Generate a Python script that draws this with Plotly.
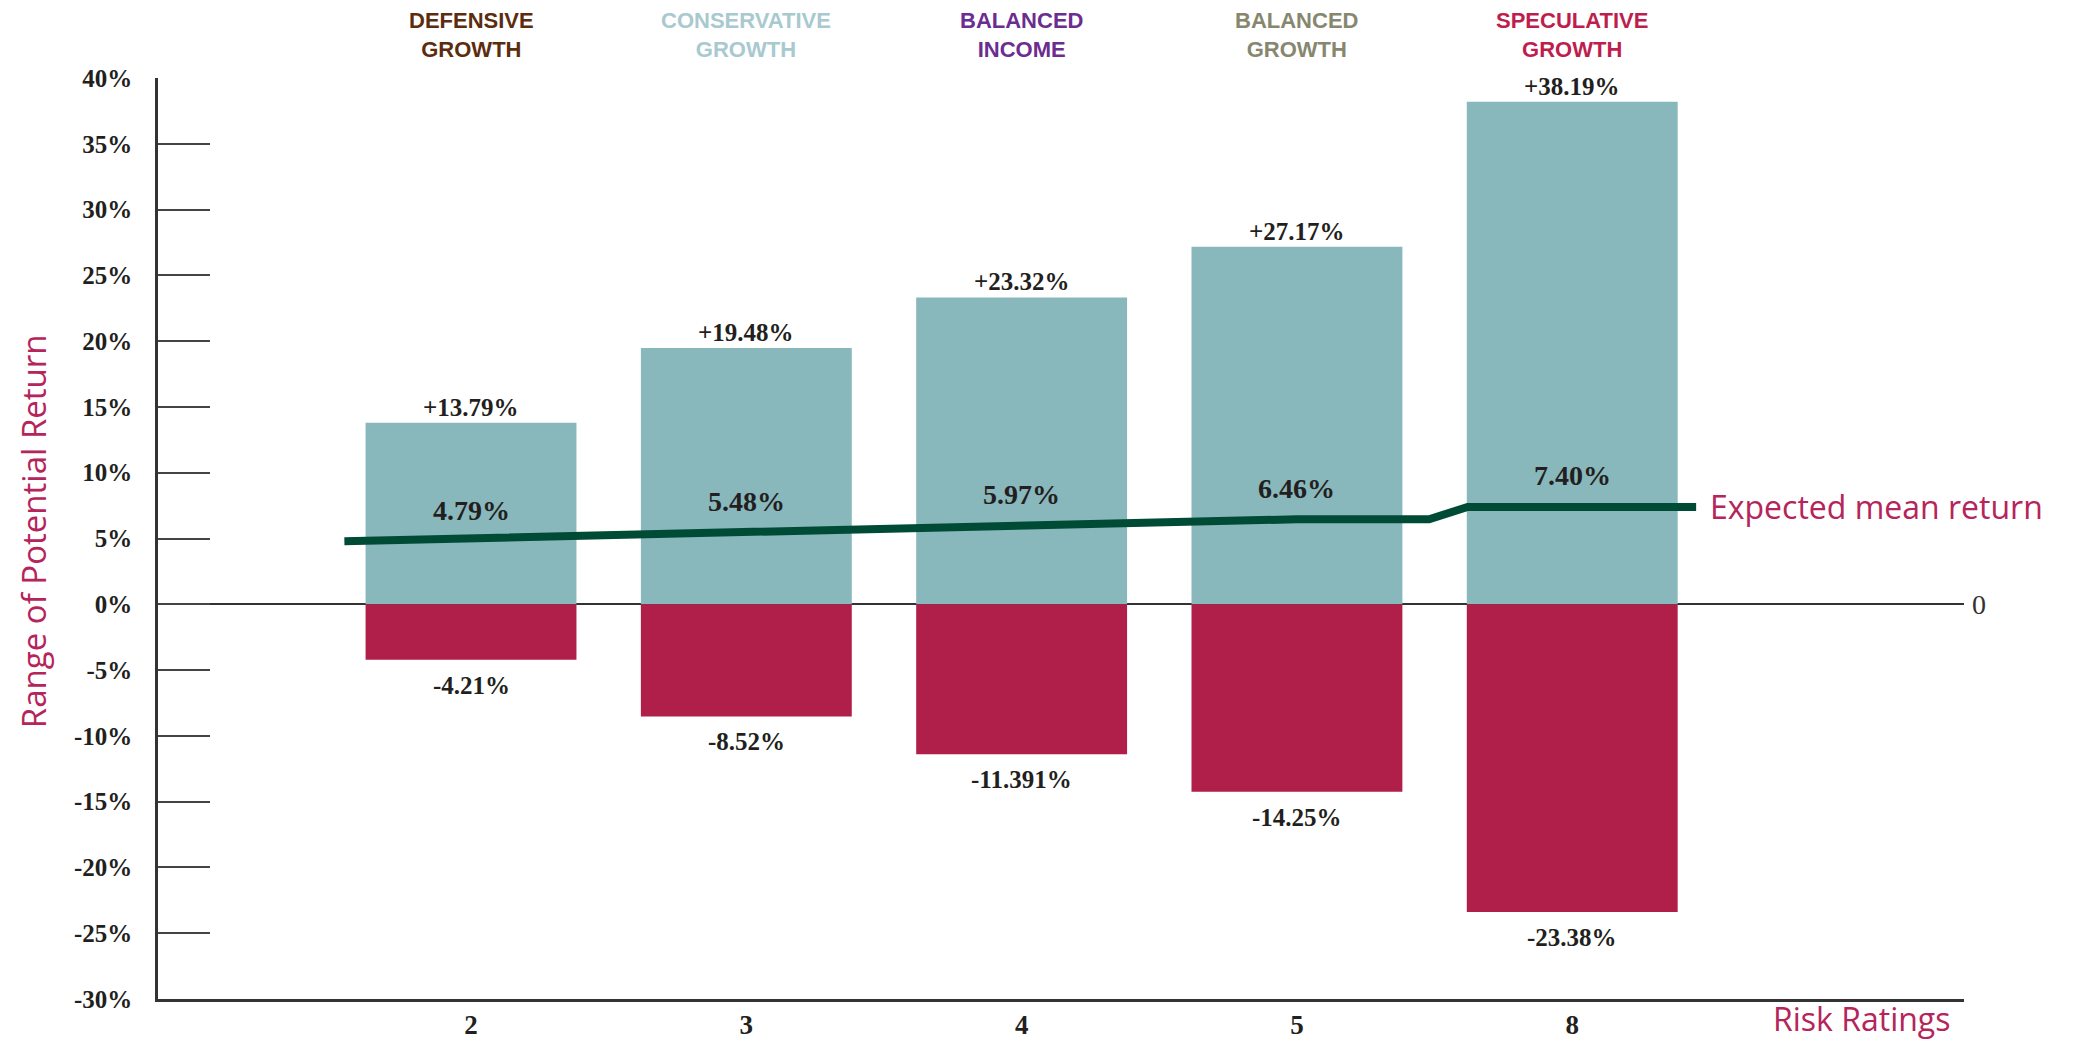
import plotly.graph_objects as go

# ---- data ----
risk_ratings = ["2", "3", "4", "5", "8"]
portfolio_names = [("DEFENSIVE", "GROWTH"), ("CONSERVATIVE", "GROWTH"),
                   ("BALANCED", "INCOME"), ("BALANCED", "GROWTH"),
                   ("SPECULATIVE", "GROWTH")]
portfolio_colors = ["#5B2C0E", "#A8C9CF", "#6B2D8F", "#86876E", "#BE1E4D"]
upside = [13.79, 19.48, 23.32, 27.17, 38.19]
downside = [-4.21, -8.52, -11.391, -14.25, -23.38]
mean_return = [4.79, 5.48, 5.97, 6.46, 7.40]
y_ticks = [40, 35, 30, 25, 20, 15, 10, 5, 0, -5, -10, -15, -20, -25, -30]

TEAL = "#88B7BC"
RED = "#B01E4A"
GREEN = "#004B35"
CRIMSON = "#B5245A"
INK = "#231F20"
SERIF = "Liberation Serif, Times New Roman, serif"
NARROW = "Liberation Sans Narrow, Arial Narrow, Liberation Sans, sans-serif"
HUMAN = "Open Sans, Noto Sans, sans-serif"


def fmt(v, sign=False):
    s = ("%.2f" % v) if round(v, 2) == v else ("%.3f" % v)
    if sign and v > 0:
        s = "+" + s
    return s + "%"


xs = list(range(len(risk_ratings)))
bar_w = 0.766

fig = go.Figure()
fig.add_trace(go.Bar(x=xs, y=upside, width=bar_w, marker=dict(color=TEAL, line=dict(width=0)),
                     hoverinfo="skip", showlegend=False))
fig.add_trace(go.Bar(x=xs, y=downside, width=bar_w, marker=dict(color=RED, line=dict(width=0)),
                     hoverinfo="skip", showlegend=False))

# expected mean return line: a straight run across the first bars, a step in the
# gap before the last bar, then flat beyond it
line_x = [xs[0] - 0.46] + xs[1:-1] + [xs[-2] + 0.48, xs[-1] - 0.38, xs[-1] + 0.45]
line_y = [mean_return[0]] + mean_return[1:-1] + [mean_return[-2], mean_return[-1], mean_return[-1]]
fig.add_trace(go.Scatter(x=line_x, y=line_y, mode="lines",
                         line=dict(color=GREEN, width=8), hoverinfo="skip", showlegend=False))

ann = []
for i, x in enumerate(xs):
    ann.append(dict(x=x, y=upside[i], xref="x", yref="y", text=fmt(upside[i], True),
                    showarrow=False, yanchor="bottom", yshift=0,
                    font=dict(family=SERIF, size=25, color=INK, weight="bold")))
    ann.append(dict(x=x, y=downside[i], xref="x", yref="y", text=fmt(downside[i]),
                    showarrow=False, yanchor="top", yshift=-10,
                    font=dict(family=SERIF, size=25, color=INK, weight="bold")))
    ann.append(dict(x=x, y=mean_return[i], xref="x", yref="y", text=fmt(mean_return[i]),
                    showarrow=False, yanchor="middle", yshift=31,
                    font=dict(family=SERIF, size=28, color=INK, weight="bold")))
    l1, l2 = portfolio_names[i]
    ann.append(dict(x=x, y=1, xref="x", yref="paper", text=f"{l1}<br>{l2}", showarrow=False,
                    yanchor="middle", yshift=43,
                    font=dict(family=NARROW, size=22, color=portfolio_colors[i], weight="bold")))

ann.append(dict(x=line_x[-1], y=mean_return[-1], xref="x", yref="y", text="Expected mean return",
                showarrow=False, xanchor="left", yanchor="middle", xshift=12,
                font=dict(family=HUMAN, size=32, color=CRIMSON)))
ann.append(dict(x=0, y=0.508, xref="paper", yref="paper", text="Range of Potential Return",
                showarrow=False, textangle=-90, xanchor="center", yanchor="middle", xshift=-125,
                font=dict(family=HUMAN, size=33, color=CRIMSON)))
ann.append(dict(x=1, y=0, xref="paper", yref="paper", text="Risk Ratings",
                showarrow=False, xanchor="right", yanchor="middle", xshift=-12, yshift=-19,
                font=dict(family=HUMAN, size=32, color=CRIMSON)))
ann.append(dict(x=1, y=0, xref="paper", yref="y", text="0",
                showarrow=False, xanchor="left", yanchor="middle", xshift=6,
                font=dict(family=SERIF, size=28, color="#333333")))

# the page body adds an 8px margin, so the figure is sized to fit inside it
fig.update_layout(
    width=2073, height=1033,
    margin=dict(l=150, r=117, t=70, b=42, autoexpand=False),
    paper_bgcolor="white", plot_bgcolor="white",
    barmode="overlay",
    annotations=ann,
    xaxis=dict(range=[-1.137, 5.423], tickvals=xs, ticktext=risk_ratings, automargin=False,
               showgrid=False, zeroline=False, showline=True, linecolor="#333333", linewidth=3,
               ticks="", ticklabelstandoff=0,
               tickfont=dict(family=SERIF, size=27, color=INK, weight="bold")),
    yaxis=dict(range=[-30, 40], tickvals=y_ticks, ticktext=[f"{v}%" for v in y_ticks],
               automargin=False,
               showgrid=False, zeroline=True, zerolinecolor="#333333", zerolinewidth=1.5,
               showline=True, linecolor="#333333", linewidth=2.5,
               ticks="inside", ticklen=52, tickwidth=1.5, tickcolor="#444444",
               ticklabelstandoff=18, layer="above traces",
               tickfont=dict(family=SERIF, size=25, color=INK, weight="bold")),
)

fig.write_html("out.html")
